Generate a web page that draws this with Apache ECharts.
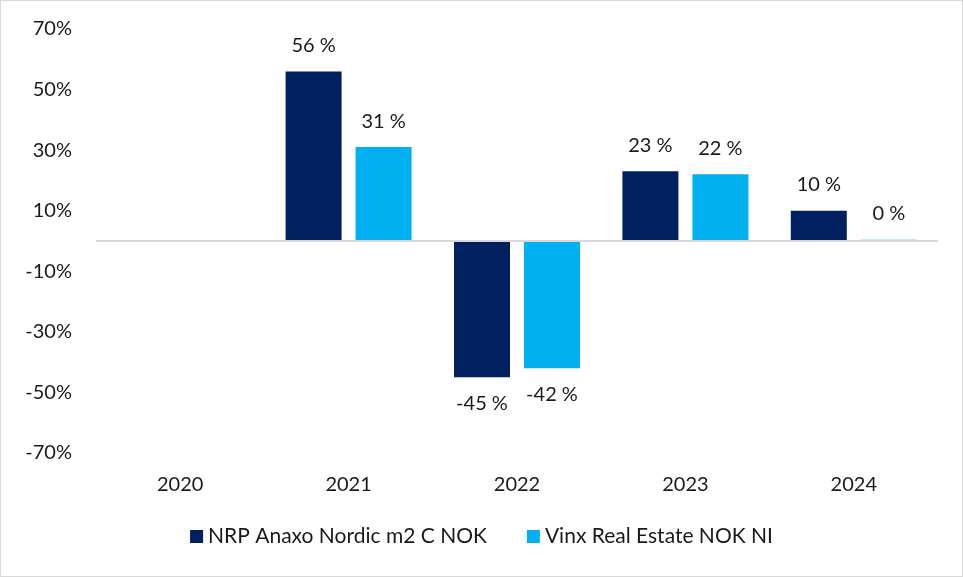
<!DOCTYPE html>
<html>
<head>
<meta charset="utf-8">
<script src="https://cdn.jsdelivr.net/npm/echarts@6/dist/echarts.min.js"></script>
<style>
html,body{margin:0;padding:0;background:#fff;}
#wrap{position:absolute;left:0;top:0;width:961px;height:575px;border:1px solid #d9d9d9;}
#chart{width:963px;height:577px;position:absolute;left:0;top:0;}
</style>
</head>
<body>
<div id="wrap"></div>
<div id="chart"></div>
<script>
const categories = ['2020', '2021', '2022', '2023', '2024'];
const seriesNames = ['NRP Anaxo Nordic m2 C NOK', 'Vinx Real Estate NOK NI'];
const nrpValues = [null, 56, -45, 23, 10];
const vinxValues = [null, 31, -42, 22, 0.4];
const labelNrp = ['', '56 %', '-45 %', '23 %', '10 %'];
const labelVinx = ['', '31 %', '-42 %', '22 %', '0 %'];
const yTicks = [-70, -50, -30, -10, 10, 30, 50, 70];

const FONT = 'Lato';
const TXT = '#1a1a1a';
const chart = echarts.init(document.getElementById('chart'), null, {renderer: 'canvas'});

function mkSeries(name, vals, labels, color, withMark) {
  const s = {
    name: name,
    type: 'bar',
    data: vals.map((v, i) => ({
      value: v,
      label: {
        show: v !== null,
        position: (v !== null && v < 0) ? 'bottom' : 'top',
        formatter: labels[i]
      }
    })),
    barWidth: 56,
    barGap: '25%',
    itemStyle: {color: color},
    label: {distance: 16, fontFamily: FONT, fontSize: 20, color: TXT},
    emphasis: {disabled: true},
    animation: false
  };
  if (withMark) {
    s.markLine = {
      silent: true,
      symbol: 'none',
      label: {show: false},
      lineStyle: {color: '#d9d9d9', width: 2, type: 'solid'},
      data: [{yAxis: 0}],
      animation: false
    };
  }
  return s;
}

chart.setOption({
  animation: false,
  grid: {left: 96, right: 25, top: 29, bottom: 124},
  legend: {
    bottom: 25,
    left: 'center',
    itemWidth: 13,
    itemHeight: 13,
    itemGap: 40,
    icon: 'rect',
    textStyle: {fontFamily: FONT, fontSize: 21, color: TXT},
    data: seriesNames
  },
  xAxis: {
    type: 'category',
    data: categories,
    axisLine: {show: false, onZero: false},
    axisTick: {show: false},
    axisLabel: {margin: 22, fontFamily: FONT, fontSize: 20, color: TXT}
  },
  yAxis: {
    type: 'value',
    min: yTicks[0],
    max: yTicks[yTicks.length - 1],
    interval: 20,
    splitLine: {show: false},
    axisLine: {show: false},
    axisTick: {show: false},
    axisLabel: {margin: 24, fontFamily: FONT, fontSize: 20, color: TXT, formatter: v => v + '%'}
  },
  series: [
    mkSeries(seriesNames[0], nrpValues, labelNrp, '#002060', true),
    mkSeries(seriesNames[1], vinxValues, labelVinx, '#00B0F0', false)
  ]
});
</script>
</body>
</html>
